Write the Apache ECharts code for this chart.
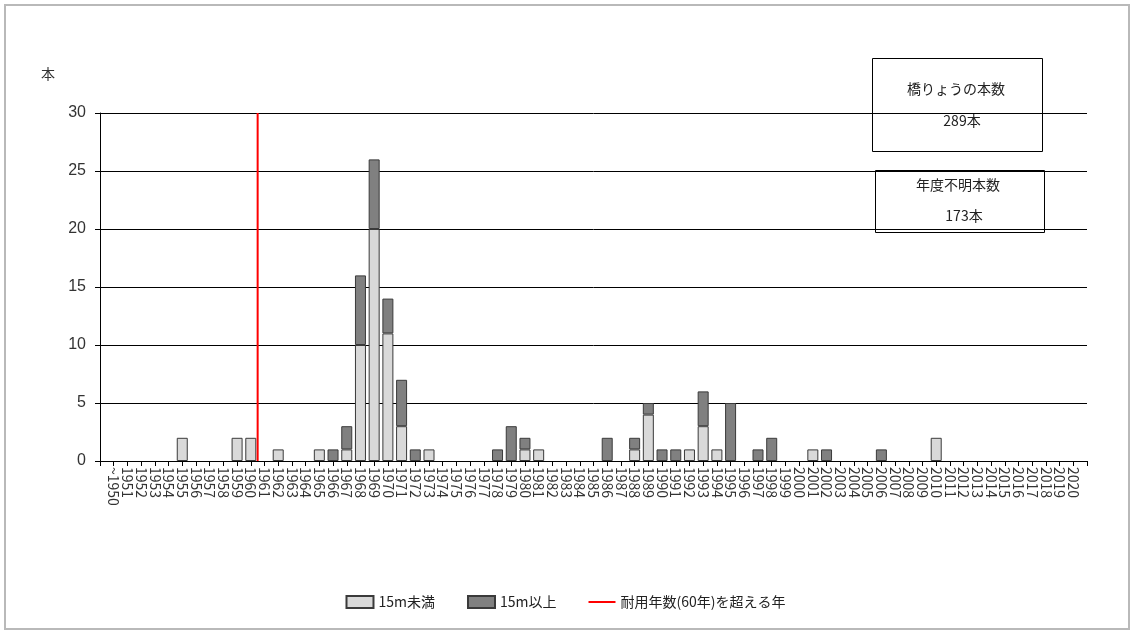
<!DOCTYPE html>
<html lang="ja">
<head>
<meta charset="utf-8">
<title>建設年度別 橋りょう数</title>
<script src="https://cdn.jsdelivr.net/npm/echarts@6/dist/echarts.min.js"></script>
<style>
  html, body { margin: 0; padding: 0; background: #ffffff; }
  #chart { width: 1131px; height: 630px; }
</style>
</head>
<body>
<div id="chart"></div>
<script>
// 建設年度ラベル（1950年以前は「~1950」にまとめる）
const yearLabels = [
  '~1950', '1951', '1952', '1953', '1954', '1955', '1956', '1957', '1958', '1959',
  '1960', '1961', '1962', '1963', '1964', '1965', '1966', '1967', '1968', '1969',
  '1970', '1971', '1972', '1973', '1974', '1975', '1976', '1977', '1978', '1979',
  '1980', '1981', '1982', '1983', '1984', '1985', '1986', '1987', '1988', '1989',
  '1990', '1991', '1992', '1993', '1994', '1995', '1996', '1997', '1998', '1999',
  '2000', '2001', '2002', '2003', '2004', '2005', '2006', '2007', '2008', '2009',
  '2010', '2011', '2012', '2013', '2014', '2015', '2016', '2017', '2018', '2019',
  '2020'
];
const firstYear = 1950;

// 橋長15m未満の本数
const under15m = [
  0, 0, 0, 0, 0, 2, 0, 0, 0, 2,
  2, 0, 1, 0, 0, 1, 0, 1, 10, 20,
  11, 3, 0, 1, 0, 0, 0, 0, 0, 0,
  1, 1, 0, 0, 0, 0, 0, 0, 1, 4,
  0, 0, 1, 3, 1, 0, 0, 0, 0, 0,
  0, 1, 0, 0, 0, 0, 0, 0, 0, 0,
  2, 0, 0, 0, 0, 0, 0, 0, 0, 0,
  0
];

// 橋長15m以上の本数
const over15m = [
  0, 0, 0, 0, 0, 0, 0, 0, 0, 0,
  0, 0, 0, 0, 0, 0, 1, 2, 6, 6,
  3, 4, 1, 0, 0, 0, 0, 0, 1, 3,
  1, 0, 0, 0, 0, 0, 2, 0, 1, 1,
  1, 1, 0, 3, 0, 5, 0, 1, 2, 0,
  0, 0, 1, 0, 0, 0, 1, 0, 0, 0,
  0, 0, 0, 0, 0, 0, 0, 0, 0, 0,
  0
];

// 縦軸目盛
const yTicks = [0, 5, 10, 15, 20, 25, 30];

// 耐用年数(60年)の境界（1960年と1961年の間）
const serviceLifeBoundary = 1960.5;

// 建設年度が不明な橋りょうの本数
const unknownYearCount = 173;

const seriesNames = ['15m未満', '15m以上', '耐用年数(60年)を超える年'];

const sum = a => a.reduce((s, v) => s + v, 0);
const totalBridges = sum(under15m) + sum(over15m) + unknownYearCount;

// 横軸の両端に1年分の余白を置く
const axisCategories = [''].concat(yearLabels, ['']);
// 0本の年は描かない（枠線だけが残らないように）
const toBars = arr => [null].concat(arr.map(v => (v === 0 ? '-' : v)), [null]);

const FONT = '"Noto Sans CJK JP", "Noto Sans", sans-serif';
const yMin = yTicks[0];
const yMax = yTicks[yTicks.length - 1];

const chart = echarts.init(document.getElementById('chart'), null, { renderer: 'canvas' });

chart.setOption({
  animation: false,
  backgroundColor: '#ffffff',
  textStyle: { fontFamily: FONT },
  grid: { left: 100, right: 44, top: 113, bottom: 169, containLabel: false },
  legend: {
    data: [
      { name: seriesNames[0], icon: 'rect' },
      { name: seriesNames[1], icon: 'rect' },
      { name: seriesNames[2], icon: 'path://M0,0H27V2H0Z', itemStyle: { color: '#ff0000', borderWidth: 0 } }
    ],
    left: 'center',
    top: 590,
    itemWidth: 27,
    itemHeight: 12,
    itemGap: 32,
    symbolKeepAspect: true,
    textStyle: { fontSize: 14, color: '#222', fontFamily: FONT },
    selectedMode: false
  },
  xAxis: [
    {
      type: 'category',
      data: axisCategories,
      boundaryGap: false,
      splitLine: { show: false },
      axisLine: { show: true, lineStyle: { color: '#000', width: 1 } },
      axisTick: { show: true, interval: 0, length: 5, lineStyle: { color: '#000', width: 1 } },
      axisLabel: {
        interval: 0,
        rotate: -90,
        margin: 6,
        fontSize: 14,
        color: '#333',
        fontFamily: FONT
      }
    },
    {
      // 耐用年数の境界線を年単位の位置に置くための軸（非表示）
      type: 'value',
      min: firstYear - 1,
      max: firstYear + yearLabels.length,
      show: false
    }
  ],
  yAxis: {
    type: 'value',
    min: yMin,
    max: yMax,
    interval: yTicks[1] - yTicks[0],
    axisLine: { show: true, lineStyle: { color: '#000', width: 1 } },
    axisTick: { show: true, length: 5, lineStyle: { color: '#000', width: 1 } },
    splitLine: { show: true, lineStyle: { color: '#000', width: 1 } },
    axisLabel: { margin: 14, fontSize: 16, color: '#333', fontFamily: 'Liberation Sans, Arial, sans-serif' }
  },
  series: [
    {
      name: seriesNames[0],
      type: 'bar',
      stack: 'bridges',
      barWidth: 11,
      data: toBars(under15m),
      itemStyle: { color: '#d9d9d9', borderColor: '#3a3a3a', borderWidth: 1 }
    },
    {
      name: seriesNames[1],
      type: 'bar',
      stack: 'bridges',
      barWidth: 11,
      data: toBars(over15m),
      itemStyle: { color: '#808080', borderColor: '#3a3a3a', borderWidth: 1 }
    },
    {
      name: seriesNames[2],
      type: 'line',
      xAxisIndex: 1,
      symbol: 'none',
      data: [[serviceLifeBoundary, yMin], [serviceLifeBoundary, yMax]],
      lineStyle: { color: '#ff0000', width: 2 },
      itemStyle: { color: '#ff0000' },
      z: 5
    }
  ],
  graphic: [
    // 外枠
    {
      type: 'rect',
      silent: true,
      shape: { x: 5, y: 5, width: 1124, height: 624 },
      style: { fill: null, stroke: '#b9b9b9', lineWidth: 2 },
      z: 100
    },
    // 縦軸の単位
    {
      type: 'text',
      left: 41,
      top: 67,
      style: { text: '本', font: '14px ' + FONT, fill: '#333' }
    },
    // 橋りょうの本数
    {
      type: 'group',
      left: 872,
      top: 58,
      z: 50,
      children: [
        {
          type: 'rect',
          shape: { x: 0.5, y: 0.5, width: 170, height: 93 },
          style: { fill: '#fff', stroke: '#000', lineWidth: 1 }
        },
        {
          type: 'text',
          x: 84, y: 31,
          style: { text: '橋りょうの本数', font: '14px ' + FONT, fill: '#222', align: 'center', verticalAlign: 'middle' }
        },
        {
          type: 'text',
          x: 90, y: 63,
          style: { text: totalBridges + '本', font: '14px ' + FONT, fill: '#222', align: 'center', verticalAlign: 'middle' }
        }
      ]
    },
    // 年度不明本数
    {
      type: 'group',
      left: 875,
      top: 170,
      z: 50,
      children: [
        {
          type: 'rect',
          shape: { x: 0.5, y: 0.5, width: 169, height: 62 },
          style: { fill: '#fff', stroke: '#000', lineWidth: 1 }
        },
        {
          type: 'text',
          x: 83, y: 15,
          style: { text: '年度不明本数', font: '14px ' + FONT, fill: '#222', align: 'center', verticalAlign: 'middle' }
        },
        {
          type: 'text',
          x: 89, y: 46,
          style: { text: unknownYearCount + '本', font: '14px ' + FONT, fill: '#222', align: 'center', verticalAlign: 'middle' }
        }
      ]
    }
  ]
});
</script>
</body>
</html>
